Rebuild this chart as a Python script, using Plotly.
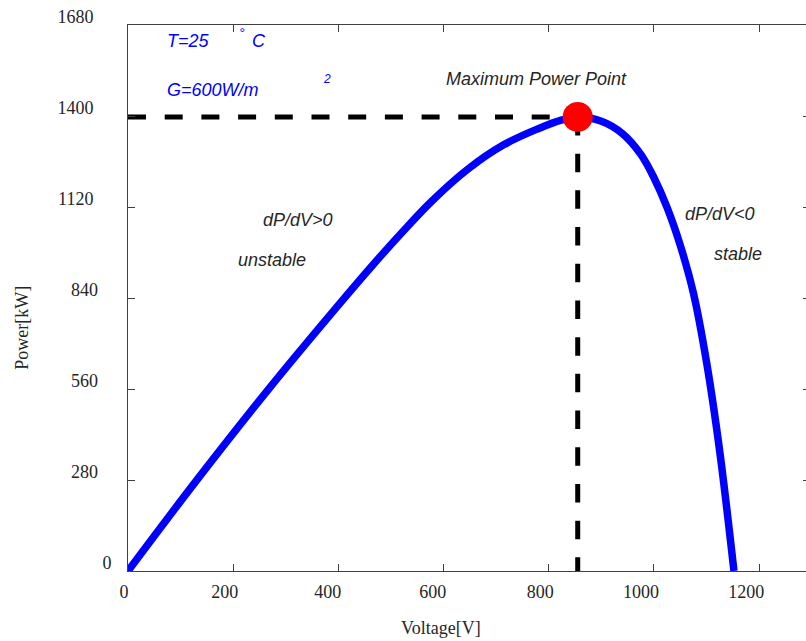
import plotly.graph_objects as go

# P-V characteristic of the PV array (T = 25 °C, G = 600 W/m²)
voltage = [0, 130, 270, 400, 470, 520, 575, 645, 715, 780, 825, 855,
           900, 940, 975, 1000, 1025, 1050, 1075, 1100, 1125, 1152]
power = [0, 278, 565, 818, 950, 1040, 1134, 1235, 1312, 1361, 1388, 1397,
         1384, 1346, 1282, 1210, 1118, 1002, 855, 642, 368, 0]

# maximum power point
mpp_v = 855
mpp_p = 1397

x_ticks = [0, 200, 400, 600, 800, 1000, 1200]
y_ticks = [0, 280, 560, 840, 1120, 1400, 1680]

NB = "\u00a0"
# tick labels padded with non-breaking spaces to keep the original spacing
x_tick_text = [str(v) + NB * {1: 0, 3: 2, 4: 4}[len(str(v))] for v in x_ticks]
x_tick_text[2] = "400" + NB * 3
x_tick_text[3] = "600" + NB * 3
y_tick_text = [str(v) + NB * {1: 0, 3: 3, 4: 4}[len(str(v))] for v in y_ticks]

SERIF = "Liberation Serif, Times New Roman, serif"
SANS = "Liberation Sans, Arial, sans-serif"
AXIS_COLOR = "#404040"
TEXT_COLOR = "#262626"

fig = go.Figure()

# dashed guides to the MPP
fig.add_trace(go.Scatter(
    x=[0, mpp_v], y=[mpp_p, mpp_p], mode="lines",
    line=dict(color="black", width=5, dash="18px,18.7px"),
    hoverinfo="skip", showlegend=False))
fig.add_trace(go.Scatter(
    x=[mpp_v, mpp_v], y=[mpp_p, 0], mode="lines",
    line=dict(color="black", width=5, dash="18.5px,18.2px"),
    hoverinfo="skip", showlegend=False))

# P-V curve
fig.add_trace(go.Scatter(
    x=voltage, y=power, mode="lines",
    line=dict(color="#0000ff", width=7.5, shape="spline", smoothing=1.0),
    showlegend=False))

# MPP marker
fig.add_trace(go.Scatter(
    x=[mpp_v], y=[mpp_p], mode="markers",
    marker=dict(color="#ff0000", size=30, line=dict(width=0)),
    showlegend=False))

# carrier for the right-hand tick axis
fig.add_trace(go.Scatter(x=[0], y=[0], yaxis="y2", mode="markers",
                         marker=dict(opacity=0), hoverinfo="skip",
                         showlegend=False))


def note(text, x, y, color=TEXT_COLOR, size=18, anchor="left"):
    fig.add_annotation(
        x=x, y=y, xref="x", yref="y", text=text, showarrow=False,
        xanchor=anchor, yanchor="middle",
        font=dict(family=SANS, size=size, color=color, style="italic"))


note("T=25", 70, 1630, color="#0000ff")
note("°", 217, 1655, color="#0000ff", size=14, anchor="center")
note("C", 231, 1630, color="#0000ff")
note("G=600W/m", 70, 1481, color="#0000ff")
note("2", 378, 1515, color="#0000ff", size=12, anchor="center")
note("Maximum Power Point", 601, 1513)
note("dP/dV>0", 253, 1079)
note("unstable", 205, 956)
note("dP/dV<0", 1056, 1100)
note("stable", 1111, 974)

# axis titles
fig.add_annotation(x=0.4617, y=-0.105, xref="paper", yref="paper",
                   text="Voltage[V]", showarrow=False,
                   xanchor="center", yanchor="middle",
                   font=dict(family=SERIF, size=18, color=TEXT_COLOR))
fig.add_annotation(x=-0.1556, y=0.4445, xref="paper", yref="paper",
                   text="Power[kW]", showarrow=False, textangle=-90,
                   xanchor="center", yanchor="middle",
                   font=dict(family=SERIF, size=18, color=TEXT_COLOR))

fig.update_layout(
    width=806, height=641,
    margin=dict(l=128, r=0, t=25, b=70),
    paper_bgcolor="white", plot_bgcolor="white",
    xaxis=dict(
        range=[0, 1289], tickvals=x_ticks, ticktext=x_tick_text,
        showgrid=False, zeroline=False, showline=True, linecolor=AXIS_COLOR,
        linewidth=1, mirror="ticks", ticks="inside", ticklen=7,
        tickcolor=AXIS_COLOR, tickwidth=1, ticklabelshift=-4,
        ticklabelstandoff=4,
        tickfont=dict(family=SERIF, size=18, color=TEXT_COLOR)),
    yaxis=dict(
        range=[0, 1680], tickvals=y_ticks, ticktext=y_tick_text,
        showgrid=False, zeroline=False, showline=True, linecolor=AXIS_COLOR,
        linewidth=1, ticks="inside", ticklen=7, tickcolor=AXIS_COLOR,
        tickwidth=1, ticklabelshift=-8, ticklabelstandoff=12,
        tickfont=dict(family=SERIF, size=18, color=TEXT_COLOR)),
    yaxis2=dict(
        overlaying="y", side="right", anchor="x", range=[0, 1680],
        tickvals=y_ticks, showticklabels=False, showgrid=False,
        zeroline=False, showline=False, ticks="inside", ticklen=3,
        tickcolor=AXIS_COLOR, tickwidth=1),
)

fig.write_html("out.html")
